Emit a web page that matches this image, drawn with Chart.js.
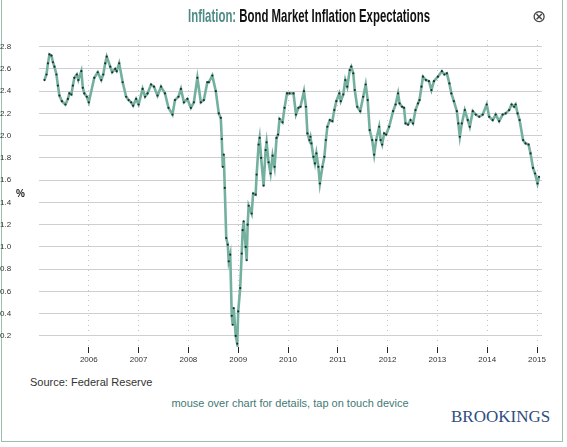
<!DOCTYPE html>
<html><head><meta charset="utf-8">
<script src="https://cdn.jsdelivr.net/npm/chart.js@4/dist/chart.umd.min.js"></script>
<style>
body{margin:0;width:567px;height:447px;background:#fff;position:relative;overflow:hidden;font-family:"Liberation Sans",Arial,sans-serif}
#frame{position:absolute;left:1px;top:-2px;width:562px;height:444px;border:1px solid #9cc0ac;box-sizing:border-box}
#wrap{position:absolute;left:0;top:0;width:567px;height:370px}
.t{position:absolute;white-space:nowrap}
</style></head><body>
<div id="frame"></div>
<div id="wrap"><canvas id="c"></canvas></div>
<div class="t" style="left:309px;top:5px;transform:translateX(-50%) scaleX(0.6);font-family:'Liberation Sans',sans-serif;font-weight:bold;font-size:19px;color:#111"><span style="color:#4f8c86">Inflation:</span> Bond Market Inflation Expectations</div>
<div class="t" style="left:532px;top:6px;font-size:17px;color:#444">⊗</div>
<div class="t" style="left:16px;top:188px;font-size:10px;font-weight:bold;color:#222">%</div>
<div class="t" style="left:30px;top:376px;font-size:11px;color:#333">Source: Federal Reserve</div>
<div class="t" style="left:0;width:580px;text-align:center;top:397px;font-size:11px;color:#3f7a74">mouse over chart for details, tap on touch device</div>
<div class="t" style="left:451px;top:407px;font-family:'Liberation Serif',serif;font-size:17px;color:#2e4d7e">BROOKINGS</div>
<script>
const years=[2005.11,2005.15,2005.18,2005.21,2005.25,2005.28,2005.31,2005.35,2005.38,2005.41,2005.46,2005.53,2005.58,2005.61,2005.65,2005.68,2005.71,2005.76,2005.79,2005.85,2005.88,2005.91,2005.96,2006.0,
2006.11,2006.18,2006.25,2006.29,2006.33,2006.36,2006.43,2006.47,2006.53,2006.56,2006.61,2006.68,2006.75,2006.8,2006.85,2006.89,2006.95,2007.0,
2007.08,2007.13,2007.18,2007.25,2007.31,2007.38,2007.45,2007.53,2007.6,2007.68,2007.73,2007.8,2007.85,2007.91,2007.98,
2008.05,2008.11,2008.18,2008.25,2008.31,2008.38,2008.41,2008.48,2008.55,2008.61,2008.65,2008.67,2008.69,2008.71,2008.73,2008.76,2008.79,2008.81,2008.84,2008.87,2008.89,2008.91,2008.95,2008.98,
2009.0,2009.04,2009.07,2009.09,2009.11,2009.15,2009.17,2009.19,2009.21,2009.27,2009.3,2009.35,2009.37,2009.41,2009.43,2009.46,2009.51,2009.55,2009.57,2009.61,2009.65,2009.69,2009.73,2009.77,2009.8,2009.83,2009.89,2009.93,2009.98,
2010.03,2010.11,2010.16,2010.21,2010.25,2010.32,2010.36,2010.39,2010.43,2010.45,2010.47,2010.51,2010.54,2010.57,2010.61,2010.64,2010.69,2010.73,2010.76,2010.79,2010.84,2010.89,2010.93,2010.97,
2011.03,2011.06,2011.11,2011.15,2011.19,2011.24,2011.27,2011.31,2011.34,2011.39,2011.45,2011.51,2011.56,2011.6,2011.64,2011.69,2011.73,2011.77,2011.83,2011.86,2011.89,2011.93,2011.97,
2012.03,2012.11,2012.16,2012.21,2012.24,2012.29,2012.33,2012.36,2012.41,2012.46,2012.51,2012.56,2012.61,2012.64,2012.68,2012.71,2012.77,2012.83,2012.88,2012.93,
2013.01,2013.09,2013.14,2013.19,2013.24,2013.28,2013.33,2013.39,2013.42,2013.45,2013.49,2013.55,2013.61,2013.65,2013.71,2013.77,2013.84,2013.91,2013.99,
2014.04,2014.11,2014.17,2014.24,2014.31,2014.37,2014.44,2014.49,2014.54,2014.57,2014.61,2014.65,2014.72,2014.77,2014.83,2014.87,2014.92,2014.96,2015.01,2015.04];
const values=[2.50,2.55,2.65,2.73,2.72,2.66,2.62,2.55,2.45,2.36,2.31,2.28,2.33,2.38,2.37,2.45,2.52,2.55,2.50,2.58,2.43,2.38,2.35,2.30,
2.52,2.57,2.50,2.55,2.65,2.71,2.62,2.57,2.60,2.58,2.65,2.48,2.35,2.32,2.30,2.27,2.33,2.28,
2.42,2.35,2.38,2.46,2.44,2.36,2.44,2.38,2.25,2.19,2.32,2.35,2.42,2.30,2.33,
2.25,2.30,2.52,2.30,2.32,2.48,2.48,2.54,2.40,2.20,2.16,1.97,1.72,1.83,1.53,1.08,1.02,0.87,0.93,0.38,0.30,0.45,0.20,0.13,
0.42,0.63,0.94,1.15,1.23,1.00,0.88,1.20,1.37,1.30,1.48,1.47,1.65,1.92,1.98,1.80,1.55,1.87,1.94,1.76,1.66,1.82,1.72,1.98,2.01,2.15,2.12,2.25,2.38,
2.38,2.38,2.19,2.25,2.26,2.40,2.26,2.02,1.96,1.99,1.93,1.81,1.75,1.84,1.72,1.57,1.72,1.81,1.96,2.08,2.14,2.13,2.23,2.31,
2.38,2.31,2.37,2.50,2.44,2.59,2.62,2.56,2.41,2.26,2.22,2.35,2.46,2.32,2.05,1.96,1.83,1.96,2.08,1.96,1.92,2.02,2.01,
2.08,2.22,2.28,2.38,2.29,2.26,2.25,2.11,2.10,2.14,2.11,2.23,2.29,2.32,2.44,2.53,2.50,2.49,2.41,2.49,
2.53,2.58,2.55,2.56,2.47,2.38,2.31,2.22,2.11,1.99,2.11,2.23,2.14,2.08,2.22,2.19,2.17,2.19,2.28,
2.17,2.14,2.19,2.13,2.19,2.20,2.23,2.28,2.26,2.28,2.20,2.14,1.96,1.93,1.92,1.84,1.71,1.66,1.57,1.63];
const yTicks=[0.2,0.4,0.6,0.8,1.0,1.2,1.4,1.6,1.8,2.0,2.2,2.4,2.6,2.8];
const xTicks=[2006,2007,2008,2009,2010,2011,2012,2013,2014,2015];
new Chart(document.getElementById('c'),{type:'line',
data:{datasets:[{data:years.map((x,i)=>({x,y:values[i]})),borderColor:'#74b09f',borderWidth:2.6,pointRadius:1.1,pointBackgroundColor:'#1e2e2a',pointBorderWidth:0,tension:0}]},
options:{responsive:true,maintainAspectRatio:false,animation:false,
layout:{padding:{top:40,right:25,left:0,bottom:0}},
plugins:{legend:{display:false},tooltip:{enabled:false}},
scales:{
x:{type:'linear',min:2005,max:2015.1,afterBuildTicks:a=>{a.ticks=xTicks.map(v=>({value:v}))},afterFit:a=>{a.height=23},
 border:{display:false,dash:[1,4]},grid:{color:'#c4c4c4',tickColor:'#222',tickLength:6,lineWidth:1,tickWidth:1},
 ticks:{color:'#333',font:{size:8},padding:2,maxRotation:0,callback:v=>String(v)}},
y:{min:0.1,max:2.86,afterBuildTicks:a=>{a.ticks=yTicks.map(v=>({value:v}))},afterFit:a=>{a.width=39},
 border:{display:false},grid:{color:'#cfcfcf',drawTicks:false},
 ticks:{color:'#333',font:{size:8},padding:6,callback:v=>v.toFixed(1),crossAlign:'far'}}
}}});
</script></body></html>
